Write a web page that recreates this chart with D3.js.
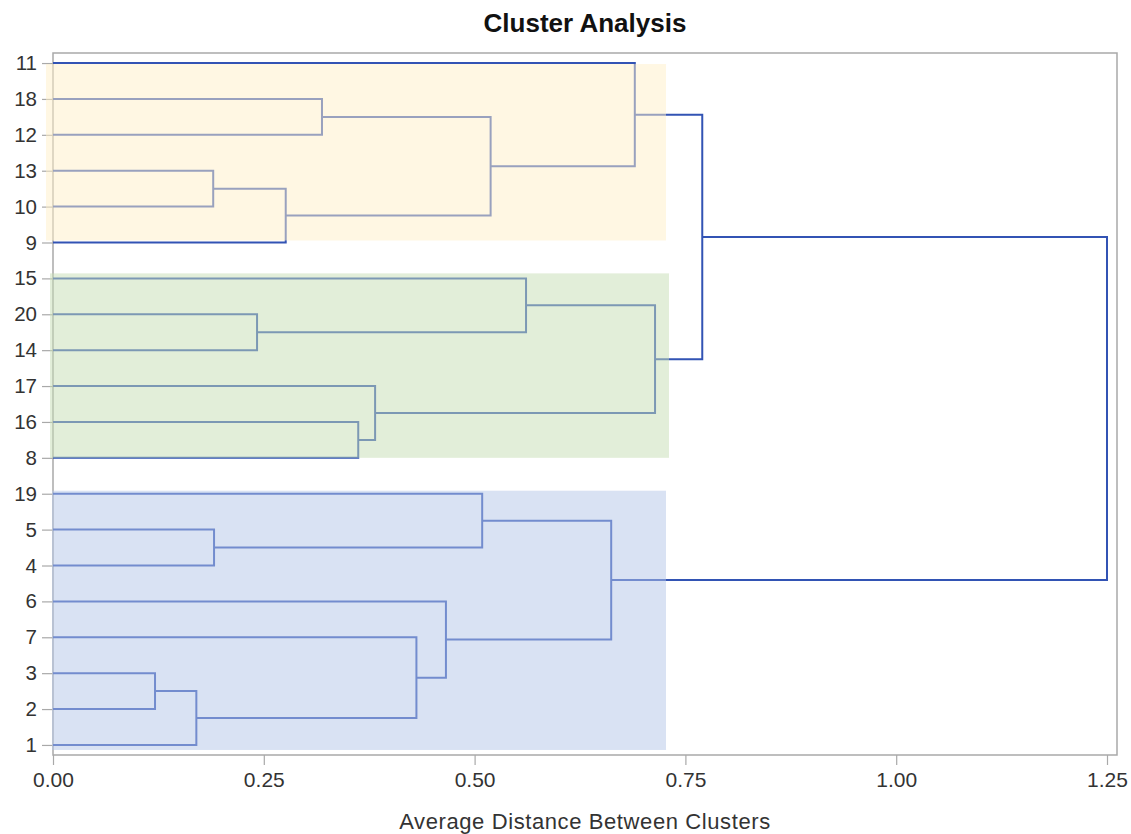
<!DOCTYPE html>
<html>
<head>
<meta charset="utf-8">
<script src="https://cdn.jsdelivr.net/npm/d3@7"></script>
<style>
  body { margin: 0; background: #fff; }
  text { font-family: "Liberation Sans", Arial, sans-serif; }
</style>
</head>
<body>
<div id="chart"></div>
<script>
// leaf order top to bottom
var leaves = ["11", "18", "12", "13", "10", "9", "15", "20", "14", "17", "16", "8",
              "19", "5", "4", "6", "7", "3", "2", "1"];

// merges, in order of height: CL1 is the first one, CL19 the root
var mergeA = ["3", "CL1", "13", "5", "20", "CL3", "18", "16", "17", "7", "6", "19",
              "CL7", "15", "CL12", "11", "CL14", "CL16", "CL18"];
var mergeB = ["2", "1", "10", "4", "14", "9", "12", "8", "CL8", "CL2", "CL10", "CL4",
              "CL6", "CL5", "CL11", "CL13", "CL9", "CL17", "CL15"];
var mergeHeight = [0.121, 0.170, 0.190, 0.191, 0.242, 0.276, 0.319, 0.362, 0.382, 0.431,
                   0.466, 0.509, 0.519, 0.561, 0.662, 0.690, 0.714, 0.770, 1.250];

// the three highlighted clusters (first leaf, last leaf)
var clusterFirst = ["11", "15", "19"];
var clusterLast = ["9", "8", "1"];
var clusterTop = 0.727;

var xTicks = [0, 0.25, 0.5, 0.75, 1.0, 1.25];

var svgWidth = 1131;
var svgHeight = 834;

var margin = { top: 53, right: 14, bottom: 79, left: 53 };
var chartWidth = svgWidth - margin.left - margin.right;
var chartHeight = svgHeight - margin.top - margin.bottom;

var svg = d3.select("#chart")
  .append("svg")
  .attr("width", svgWidth)
  .attr("height", svgHeight);

var chartGroup = svg.append("g")
  .attr("transform", `translate(${margin.left}, ${margin.top})`);

// scales
var xScale = d3.scaleLinear()
  .domain([0, 1.25])
  .range([0, chartWidth - 10]);

var yScale = d3.scalePoint()
  .domain(leaves)
  .range([0, chartHeight])
  .padding(0.28);

// node positions: leaves sit at height 0, merges at the midpoint of their children
var nodes = {};
leaves.forEach(l => { nodes[l] = { h: 0, y: yScale(l) }; });
mergeHeight.forEach((h, i) => {
  var a = nodes[mergeA[i]], b = nodes[mergeB[i]];
  nodes["CL" + (i + 1)] = { h: h, y: (a.y + b.y) / 2 };
});

// frame
chartGroup.append("rect")
  .attr("x", 0).attr("y", 0)
  .attr("width", chartWidth).attr("height", chartHeight)
  .attr("fill", "none")
  .attr("stroke", "#a9a9a9")
  .attr("stroke-width", 1.5);

// x axis
var xAxis = d3.axisBottom(xScale)
  .tickValues(xTicks)
  .tickFormat(d3.format(".2f"))
  .tickSize(10)
  .tickSizeOuter(0)
  .tickPadding(7);

var gx = chartGroup.append("g")
  .attr("transform", `translate(0, ${chartHeight})`)
  .call(xAxis);
gx.select(".domain").remove();
gx.selectAll(".tick line").attr("stroke", "#a9a9a9").attr("stroke-width", 1.2);
gx.selectAll(".tick text")
  .attr("fill", "#333")
  .style("font-size", "21px")
  .style("font-family", "'Liberation Sans', Arial, sans-serif");

// y axis
var yAxis = d3.axisLeft(yScale)
  .tickSize(11)
  .tickSizeOuter(0)
  .tickPadding(5);

var gy = chartGroup.append("g").call(yAxis);
gy.select(".domain").remove();
gy.selectAll(".tick line").attr("stroke", "#a9a9a9").attr("stroke-width", 1.2);
gy.selectAll(".tick text")
  .attr("fill", "#333")
  .style("font-size", "20.5px")
  .style("font-family", "'Liberation Sans', Arial, sans-serif");

// dendrogram links
var lineColor = "#3253b4";
var links = mergeHeight.map((h, i) => {
  var a = nodes[mergeA[i]], b = nodes[mergeB[i]];
  var xm = xScale(h);
  return `M${xScale(a.h)},${a.y}H${xm}V${b.y}H${xScale(b.h)}`;
});

chartGroup.selectAll("path.link")
  .data(links)
  .enter()
  .append("path")
  .attr("class", "link")
  .attr("d", d => d)
  .attr("fill", "none")
  .attr("stroke", lineColor)
  .attr("stroke-width", 2);

// translucent cluster bands drawn on top, as in the reference
var bandColors = ["#fff0c8", "#c5deb3", "#b3c5e7"];
var bandInset = [[-7, 1, -2, 0], [-3, -5, 0, 3], [-1, -3, 5, 0]]; // left, top, bottom, right nudges
chartGroup.selectAll("rect.band")
  .data(clusterFirst)
  .enter()
  .append("rect")
  .attr("class", "band")
  .attr("x", (d, i) => bandInset[i][0])
  .attr("y", (d, i) => yScale(d) + bandInset[i][1])
  .attr("width", (d, i) => xScale(clusterTop) - bandInset[i][0] + bandInset[i][3])
  .attr("height", (d, i) => yScale(clusterLast[i]) + bandInset[i][2] - yScale(d) - bandInset[i][1])
  .attr("fill", (d, i) => bandColors[i])
  .attr("fill-opacity", 0.5);

// title and axis label
svg.append("text")
  .attr("x", margin.left + chartWidth / 2)
  .attr("y", 32)
  .attr("text-anchor", "middle")
  .style("font-size", "26px")
  .style("font-weight", "bold")
  .attr("fill", "#111")
  .text("Cluster Analysis");

svg.append("text")
  .attr("x", margin.left + chartWidth / 2)
  .attr("y", 829)
  .attr("text-anchor", "middle")
  .style("font-size", "22px")
  .style("letter-spacing", "0.6px")
  .attr("fill", "#333")
  .text("Average Distance Between Clusters");
</script>
</body>
</html>
